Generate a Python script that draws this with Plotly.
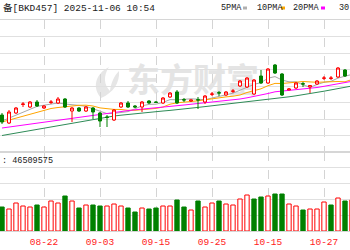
import plotly.graph_objects as go

W, H = 350, 250

dates = ["08-14","08-15","08-18","08-19","08-20","08-21","08-22","08-25","08-26","08-27",
         "08-28","08-29","09-01","09-02","09-03","09-04","09-05","09-08","09-09","09-10",
         "09-11","09-12","09-15","09-16","09-17","09-18","09-19","09-22","09-23","09-24",
         "09-25","09-26","09-29","09-30","10-09","10-10","10-13","10-14","10-15","10-16",
         "10-17","10-20","10-21","10-22","10-23","10-24","10-27","10-28","10-29","10-30","10-31"]

open_ = [185,177,187,195.5,193,198,192,197.5,197,201,189,192,189,192,187,183,180,193,197,194,
         193,199,198,197,203,208,200.3,199,200.3,198,205.7,207.3,205,208.7,214,213,206,224,217,235,
         226,210,212,216.3,213,216,221.7,221.5,223,230,222]
high = [187,190,193,198,199,200,195,200,203,202,193,193,194,193,188,185,191,198,199,195,
        199,200,199,203,208,210,202,200.3,203,205,208,209,209,211,220,223,221,230,232,236,
        227,212,218,218,215,220,224,224,233,231,230]
low = [176,176,186,193,192,193,191,196,196,192,178,188,188,181,173,173,179,192,192,192,
       188,196,197,196,202,196,198,198,191,196,204,204,204,207,213,212,205,216,216,226,
       204,210,211,213,207,215,220,220,222,223,221]
close = [178,188,192,196,198,194,194,198,201,193,192,189,193,188,179,182.6,190,197,193,193,
         198,197,197.6,202,207,197,200,200,200,204,206,207,208,209,219,222,220,217,231,227,
         205,211,217,216,214.5,219,222,222,232,224,228]

ma5 = [179,182,185,188,190.4,193.6,194.8,196,197,196,195.6,194.6,193.6,191,188.2,186.4,186.6,187.4,188.4,191.2,
       194.2,195.6,195.8,197.6,200.4,200.2,200.8,201.2,200.8,200.2,202,203.4,205,206.8,209.8,213,215.6,217.4,221.8,223.4,
       220,218.2,218.2,215.2,212.7,215.5,217.7,218.7,221.9,223.8,225.6]
ma10 = [178,180,182,184,186,188,190,191.5,192.5,193.2,194.6,194.7,194.8,194,192.1,191,190.6,190.5,189.7,189.7,
        190.3,191.1,191.6,193,195.8,197.2,198.2,198.5,199.2,200.3,201.1,202.1,203.1,203.8,205,207.5,209.5,211.2,214.3,216.6,
        216.5,216.9,217.8,218.5,218,217.7,218,218.4,218.5,218.2,220.5]
ma20 = [172,173,174,175,176,177,178,179,180,181,182,183,184,185,186,187,188,188.7,189.4,190.2,
        191,191.7,192.3,193,193.7,194.3,195,195.7,196.5,197.3,198,198.7,199.5,200.2,201,202.2,203.4,204.8,206.5,208.2,
        208.8,209.4,210,210.7,211.4,212.5,213.7,215,216.4,217.5,218.7]
ma30 = [164.5,165.7,167,168.2,169.5,170.7,172,173.2,174.5,175.7,177,178.2,179.5,180.7,182,183,184,184.8,185.6,186.3,
        187,187.7,188.4,189,189.6,190.2,191,191.8,192.6,193.4,194.2,195,195.7,196.4,197,198,198.8,199.6,200.4,201.2,
        202.2,203.2,204.2,205.2,206.4,207.6,208.8,210.1,211.4,212.7,214]

volume = [3600,3300,4200,3750,3600,3900,3600,4500,4200,5250,4500,3450,3900,3900,3750,3750,4050,3750,3450,2850,
          3450,3300,3450,3750,3750,4650,3600,3150,4500,3600,4200,4500,4050,3900,4800,5400,4800,5100,5250,5550,
          5550,4050,3750,3150,3300,3300,4350,3900,4950,4500,4650]
vol_up = [0,1,1,1,1,0,1,1,1,0,1,0,1,0,0,1,1,1,0,0,
          1,0,0,1,1,0,0,1,0,1,1,0,1,1,1,1,0,0,1,0,
          0,1,1,0,1,1,1,0,1,0,1]

tick_vals = ["08-22","09-03","09-15","09-25","10-15","10-27"]
ma_labels = ["5PMA", "10PMA", "20PMA", "30"]

RED = "#ff0000"
GRN = "#008000"


def px(x):
    return x / W


def py(y):
    return 1 - y / H


fig = go.Figure()

ma_specs = [(ma5, "#a8a8a8"), (ma10, "#ffa500"), (ma20, "#ff00ff"), (ma30, "#2e8b57")]
for vals, col in ma_specs:
    fig.add_trace(go.Scatter(x=dates, y=vals, mode="lines", line=dict(color=col, width=1),
                             xaxis="x", yaxis="y", hoverinfo="skip", showlegend=False))

fig.add_trace(go.Candlestick(
    x=dates, open=open_, high=high, low=low, close=close,
    increasing=dict(line=dict(color=RED, width=1), fillcolor="#ffffff"),
    decreasing=dict(line=dict(color=GRN, width=1), fillcolor=GRN),
    whiskerwidth=0, xaxis="x", yaxis="y3", showlegend=False))

fig.add_trace(go.Bar(
    x=dates, y=volume, width=0.62,
    marker=dict(color=["#ffffff" if u else GRN for u in vol_up],
                line=dict(color=[RED if u else GRN for u in vol_up], width=1)),
    xaxis="x2", yaxis="y2", showlegend=False))

xr = [6 - 44 / 7, 6 + 306 / 7]
common_x = dict(type="category", range=xr, tickvals=tick_vals, showgrid=True,
                griddash="dash", gridcolor="#d4d4d4", gridwidth=1, showline=True,
                mirror=True, linecolor="#d6d6d6", linewidth=1, zeroline=False, ticks="",
                fixedrange=True)

fig.update_layout(
    width=W, height=H, autosize=False,
    margin=dict(l=0, r=0, t=0, b=0, pad=0),
    paper_bgcolor="#ffffff", plot_bgcolor="#ffffff",
    showlegend=False, boxgap=0.4,
    xaxis=dict(**common_x, anchor="y", showticklabels=False, rangeslider=dict(visible=False)),
    xaxis2=dict(**common_x, anchor="y2", showticklabels=True, ticktext=tick_vals,
                tickfont=dict(family="Liberation Mono", size=9.5, color="#ff2020"),
                ticklabelstandoff=2),
    yaxis=dict(domain=[py(152), py(20)], range=[148, 280], tick0=148, dtick=16.5,
               showgrid=True, gridcolor="#e0e0e0", showticklabels=False, zeroline=False,
               ticks="", fixedrange=True),
    yaxis3=dict(overlaying="y", range=[148, 280], visible=False, showgrid=False,
                fixedrange=True),
    yaxis2=dict(domain=[py(231), py(152)], range=[0, 11850], tick0=0, dtick=2370,
                showgrid=True, gridcolor="#e0e0e0", showticklabels=False, zeroline=False,
                ticks="", fixedrange=True),
)

mono = "Liberation Mono, Noto Sans CJK SC"
annotations = [
    dict(x=px(1), y=py(8), text="备[BKD457] 2025-11-06 10:54", xanchor="left", yanchor="middle",
         font=dict(family=mono, size=9.5, color="#202020")),
    dict(x=px(0), y=py(161), text=": 46509575", xanchor="left", yanchor="middle",
         font=dict(family=mono, size=8.5, color="#202020")),
    dict(x=-2, xref="x2", y=py(240), text="08-12", xanchor="center", yanchor="middle",
         font=dict(family="Liberation Mono", size=9.5, color="#ff2020")),
]
for lab, x0 in zip(ma_labels, [219, 255, 291, 337]):
    annotations.append(dict(x=px(x0), y=py(8), text=lab, xanchor="left", yanchor="middle",
                            font=dict(family=mono, size=8.5, color="#202020")))
for a in annotations:
    a.setdefault("xref", "paper")
    a.setdefault("yref", "paper")
    a["showarrow"] = False
fig.update_layout(annotations=annotations)

shapes = []
for x0, col in [(243, "#b0b0b0"), (281, "#ffa500"), (321, "#ff00ff")]:
    shapes.append(dict(type="rect", xref="paper", yref="paper", x0=px(x0), x1=px(x0 + 4),
                       y0=py(9.5), y1=py(6.5), fillcolor=col, line=dict(width=0)))

# watermark
shapes.append(dict(type="rect", xref="paper", yref="paper", x0=px(120), x1=px(266),
                   y0=py(102), y1=py(64), line=dict(width=0), fillcolor="rgba(0,0,0,0)",
                   layer="below",
                   label=dict(text="<b>东方财富</b>", textposition="middle center",
                              font=dict(family="Noto Sans CJK SC", size=33, color="#e4e4e4"))))
logo_pts = [("M", 101, 98), ("C", 92, 88, 95, 74, 109, 67), ("C", 103, 76, 104, 85, 110, 91),
            ("C", 111, 83, 114, 76, 119, 71), ("C", 120, 83, 113, 93, 101, 98)]
path = ""
for seg in logo_pts:
    cmd, coords = seg[0], seg[1:]
    pts = []
    for k in range(0, len(coords), 2):
        pts.append(f"{px(coords[k]):.4f},{py(coords[k+1]):.4f}")
    path += cmd + " " + " ".join(pts) + " "
path += "Z"
shapes.append(dict(type="path", xref="paper", yref="paper", path=path, fillcolor="#e6e6e6",
                   line=dict(width=0), layer="below"))
fig.update_layout(shapes=shapes)

fig.write_html("out.html")
